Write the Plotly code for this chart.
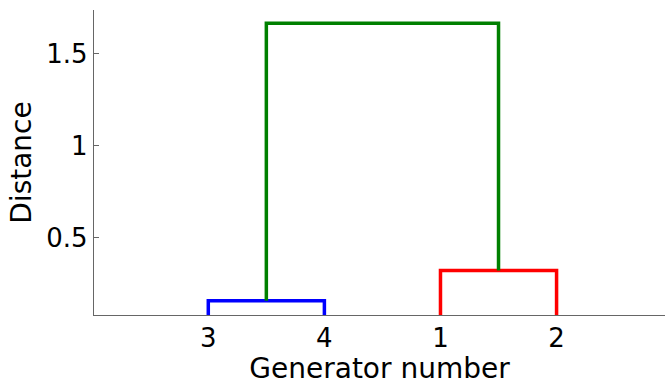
import plotly.graph_objects as go

# Leaf order along the x axis and their labels
leaf_labels = ["3", "4", "1", "2"]
leaf_positions = [1, 2, 3, 4]

# Cluster links: (left x, left bottom, right x, right bottom, merge height, colour)
link_left_x = [1, 3, 1.5]
link_left_y = [0.0, 0.0, 0.156]
link_right_x = [2, 4, 3.5]
link_right_y = [0.0, 0.0, 0.321]
link_height = [0.156, 0.321, 1.665]
link_colors = ["#0000FF", "#FF0000", "#008000"]

y_ticks = [0.5, 1, 1.5]

fig = go.Figure()
for xl, yl, xr, yr, h, c in zip(link_left_x, link_left_y, link_right_x, link_right_y, link_height, link_colors):
    fig.add_trace(go.Scatter(
        x=[xl, xl, xr, xr], y=[yl, h, h, yr], mode="lines",
        line=dict(color=c, width=3.5), showlegend=False, hoverinfo="skip"))

font = "DejaVu Sans"
fig.update_layout(
    width=665, height=385,
    margin=dict(l=94, r=0, t=10, b=70),
    plot_bgcolor="white", paper_bgcolor="white",
    font=dict(family=font, color="black"),
)
fig.update_xaxes(
    range=[0.0155, 4.934], tickmode="array", tickvals=leaf_positions, ticktext=leaf_labels,
    showline=True, linecolor="#666666", linewidth=1.3, showgrid=False, zeroline=False,
    ticks="", tickfont=dict(size=26, family=font),
    title=dict(text="Generator number", font=dict(size=28, family=font), standoff=4),
)
fig.update_yaxes(
    range=[0.0783, 1.7375], tickmode="array", tickvals=y_ticks, ticktext=["0.5", "1", "1.5"],
    showline=True, linecolor="#666666", linewidth=1.3, showgrid=False, zeroline=False,
    ticks="inside", ticklen=5, tickcolor="#666666", tickfont=dict(size=26, family=font),
    title=dict(text="Distance", font=dict(size=28, family=font), standoff=6),
)
fig.write_html("out.html")
